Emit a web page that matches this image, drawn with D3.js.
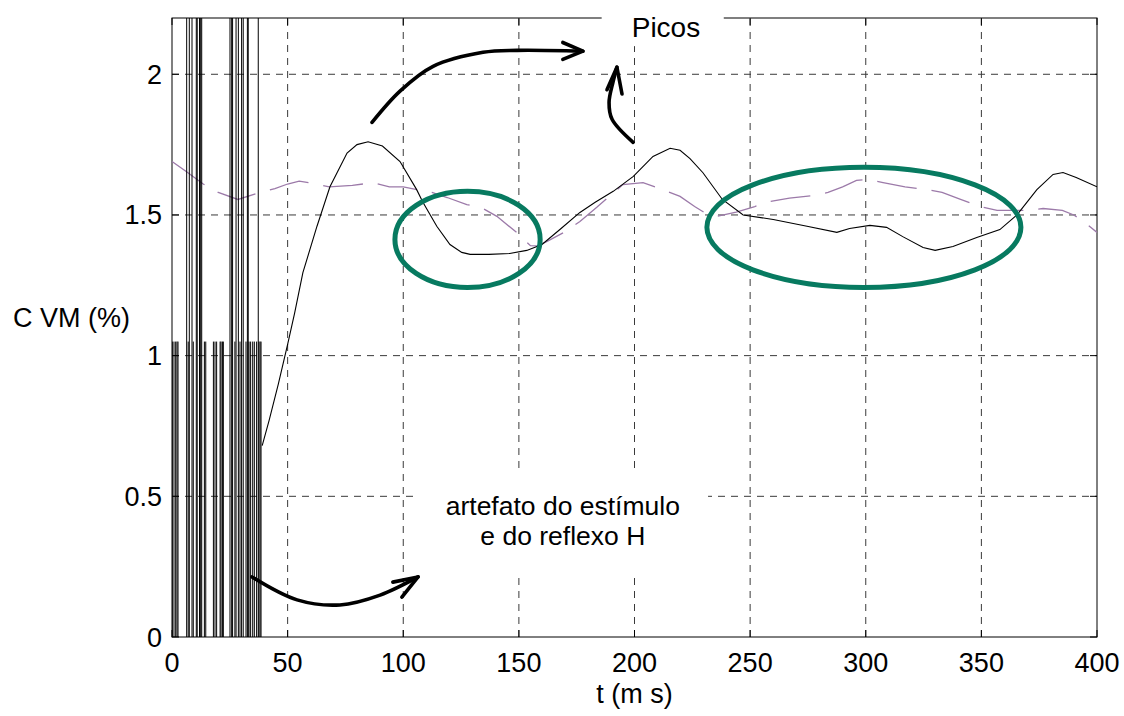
<!DOCTYPE html>
<html>
<head>
<meta charset="utf-8">
<script src="https://cdn.jsdelivr.net/npm/d3@7"></script>
<style>
  html, body { margin: 0; padding: 0; background: #fff; }
  svg { display: block; }
  text { font-family: "Liberation Sans", Arial, Helvetica, sans-serif; fill: #000; }
</style>
</head>
<body>
<svg id="chart" width="1124" height="716"></svg>
<script>
// ---- data -------------------------------------------------------------
// CVM (%) after the stimulus artefact (solid black trace)
const cvmT = [39, 42, 46, 50, 53, 56.6, 62.7, 68.3, 75.7, 80, 84.8, 91, 98.6, 105.8, 108.5,
  114.5, 120.2, 125.3, 128.9, 137, 146, 153.4, 160, 168, 176.4, 183, 190.8, 199.5, 208,
  215.4, 219.7, 224, 229.6, 238, 247, 260, 274.6, 287.5, 293, 301.8, 309, 316, 324.8,
  330, 337.7, 348, 358, 365.4, 374, 381, 385.3, 391, 400];
const cvmV = [0.68, 0.77, 0.90, 1.04, 1.15, 1.295, 1.46, 1.60, 1.72, 1.75, 1.76, 1.745, 1.69,
  1.59, 1.545, 1.46, 1.395, 1.367, 1.36, 1.36, 1.363, 1.374, 1.395, 1.45, 1.509, 1.545,
  1.584, 1.637, 1.708, 1.737, 1.73, 1.70, 1.65, 1.555, 1.50, 1.484, 1.46, 1.438, 1.452,
  1.463, 1.456, 1.423, 1.384, 1.374, 1.388, 1.42, 1.448, 1.50, 1.59, 1.644, 1.651, 1.633, 1.60];

// reference trace (dashed purple)
const refT = [0, 6, 13.5, 20, 28.5, 37, 44.5, 50, 55, 61, 68, 78, 87, 94, 100, 106, 112.4,
  119, 127.5, 134.5, 140.5, 149, 155, 158, 162, 170, 176.4, 183.7, 195, 203.7, 212, 219.7,
  226, 230, 235.5, 244, 252, 258.6, 267, 277, 283.7, 290, 296, 301, 307.5, 317, 326.5,
  333, 341, 349.4, 356.8, 363, 369.7, 376.7, 385, 390, 394.8, 400];
const refV = [1.69, 1.655, 1.61, 1.58, 1.555, 1.577, 1.594, 1.61, 1.62, 1.612, 1.60, 1.605,
  1.615, 1.60, 1.60, 1.59, 1.58, 1.562, 1.537, 1.523, 1.495, 1.438, 1.391, 1.39, 1.405,
  1.44, 1.477, 1.527, 1.608, 1.615, 1.59, 1.566, 1.53, 1.51, 1.495, 1.51, 1.53, 1.548,
  1.56, 1.569, 1.58, 1.60, 1.623, 1.626, 1.615, 1.60, 1.59, 1.58, 1.555, 1.53, 1.516,
  1.516, 1.516, 1.523, 1.516, 1.50, 1.473, 1.438];

// stimulus / H-reflex artefact: saturated spikes (run off the top) and clipped spikes
const spikeTallT = [6.35, 7.48, 8.65, 10.5, 10.9, 11.9, 12.4, 12.85, 25.08, 25.8, 26.2,
  27.7, 28.7, 30.1, 30.8, 32.6, 32.96, 37.3];
const spikeTallV = 2.5;
const spikeShortT = [0.13, 0.86, 1.6, 2.16, 2.6, 7.0, 9.2, 14.0, 14.6, 17.9, 18.6, 19.3,
  20.8, 21.2, 21.8, 22.2, 27.2, 29.4, 32.0, 33.3, 34.0, 34.9, 35.6, 36.6, 37.6, 38.1, 38.5];
const spikeShortV = 1.05;

// axes
const xTicks = [0, 50, 100, 150, 200, 250, 300, 350, 400];
const yTicks = [0, 0.5, 1, 1.5, 2];
const yTickLabels = ["0", "0.5", "1", "1.5", "2"];
const xTitle = "t (m s)";
const yTitle = "C VM (%)";

// annotations (data coordinates)
const peaksLabel = "Picos";
const peaksLabelT = 213.6;
const artefactLabel = ["artefato do estímulo", "e do reflexo H"];
const artefactLabelT = 169;
const ellipseA = { t: 127.8, v: 1.413, rt: 31.4, rv: 0.171 };
const ellipseB = { t: 299.2, v: 1.456, rt: 67.9, rv: 0.2135 };
const arrowPeaksRight = [[86.5, 1.829], [98.6, 1.94], [112.9, 2.028], [134.5, 2.078], [149.2, 2.085], [177.7, 2.082]];
const arrowPeaksRightHead = [[169, 2.113], [177.7, 2.082], [169, 2.053]];
const arrowPeaksUp = [[199.4, 1.758], [190.3, 1.84], [189, 1.90], [190.7, 1.972], [192.4, 2.025]];
const arrowPeaksUpHead = [[188.1, 1.945], [192.4, 2.025], [194.6, 1.93]];
const arrowArtefact = [[34.6, 0.2135], [54.1, 0.132], [72.6, 0.114], [90, 0.149], [106.4, 0.2135]];
const arrowArtefactHead = [[95.5, 0.195], [106.4, 0.2135], [99.4, 0.142]];
const peaksBox = { t0: 185.8, t1: 238.6, v0: 2.10 };
const artefactBox = { t0: 106.4, t1: 231.8, v0: 0.21, v1: 0.60 };

// ---- drawing ------------------------------------------------------------
const svg = d3.select("#chart");
const x = d3.scaleLinear().domain([0, 400]).range([172, 1097]);
const y = d3.scaleLinear().domain([0, 2.2]).range([637, 18]);
const [x0, x1] = x.range();
const [yB, yT] = y.range();

svg.append("defs").append("clipPath").attr("id", "plotClip")
  .append("rect").attr("x", x0).attr("y", yT).attr("width", x1 - x0).attr("height", yB - yT);

// grid
const grid = svg.append("g").attr("stroke", "#3a3a3a").attr("stroke-width", 1)
  .attr("stroke-dasharray", "7,6").attr("fill", "none");
grid.selectAll("line.v").data(xTicks.slice(1, -1)).join("line").attr("class", "v")
  .attr("x1", d => x(d)).attr("x2", d => x(d)).attr("y1", yB).attr("y2", yT);
grid.selectAll("line.h").data(yTicks.slice(1)).join("line").attr("class", "h")
  .attr("x1", x0).attr("x2", x1).attr("y1", d => y(d)).attr("y2", d => y(d));

// inward tick marks on all four sides
const tickLen = 7;
const ticks = svg.append("g").attr("stroke", "#000").attr("stroke-width", 1);
xTicks.forEach(t => {
  ticks.append("line").attr("x1", x(t)).attr("x2", x(t)).attr("y1", yB).attr("y2", yB - tickLen);
  ticks.append("line").attr("x1", x(t)).attr("x2", x(t)).attr("y1", yT).attr("y2", yT + tickLen);
});
yTicks.forEach(v => {
  ticks.append("line").attr("x1", x0).attr("x2", x0 + tickLen).attr("y1", y(v)).attr("y2", y(v));
  ticks.append("line").attr("x1", x1).attr("x2", x1 - tickLen).attr("y1", y(v)).attr("y2", y(v));
});

// frame
svg.append("rect").attr("x", x0).attr("y", yT).attr("width", x1 - x0).attr("height", yB - yT)
  .attr("fill", "none").attr("stroke", "#000").attr("stroke-width", 1);

// data layer
const plot = svg.append("g").attr("clip-path", "url(#plotClip)");

const refData = refT.map((t, i) => [t, refV[i]]);
plot.append("path").datum(refData)
  .attr("fill", "none").attr("stroke", "#9c7aa9").attr("stroke-width", 1.3)
  .attr("stroke-dasharray", "40,15")
  .attr("d", d3.line().x(d => x(d[0])).y(d => y(d[1])));

const spikes = spikeTallT.map(t => [t, spikeTallV]).concat(spikeShortT.map(t => [t, spikeShortV]));
plot.append("g").attr("stroke", "#000").attr("stroke-width", 1)
  .selectAll("line").data(spikes).join("line")
  .attr("x1", d => x(d[0])).attr("x2", d => x(d[0]))
  .attr("y1", y(0)).attr("y2", d => y(d[1]));

const cvmData = cvmT.map((t, i) => [t, cvmV[i]]);
plot.append("path").datum(cvmData)
  .attr("fill", "none").attr("stroke", "#000").attr("stroke-width", 1.1)
  .attr("d", d3.line().x(d => x(d[0])).y(d => y(d[1])));

// white label boxes
svg.append("rect").attr("x", x(peaksBox.t0)).attr("y", 0)
  .attr("width", x(peaksBox.t1) - x(peaksBox.t0)).attr("height", y(peaksBox.v0))
  .attr("fill", "#fff");
svg.append("rect").attr("x", x(artefactBox.t0)).attr("y", y(artefactBox.v1))
  .attr("width", x(artefactBox.t1) - x(artefactBox.t0))
  .attr("height", y(artefactBox.v0) - y(artefactBox.v1))
  .attr("fill", "#fff");

// highlight ellipses
[ellipseA, ellipseB].forEach(e => {
  svg.append("ellipse")
    .attr("cx", x(e.t)).attr("cy", y(e.v))
    .attr("rx", x(e.t + e.rt) - x(e.t)).attr("ry", y(e.v - e.rv) - y(e.v))
    .attr("fill", "none").attr("stroke", "#077a60").attr("stroke-width", 5);
});

// arrows
const arrowLine = d3.line().x(d => x(d[0])).y(d => y(d[1])).curve(d3.curveCatmullRom.alpha(0.5));
const headLine = d3.line().x(d => x(d[0])).y(d => y(d[1]));
const arrows = svg.append("g").attr("fill", "none").attr("stroke", "#000")
  .attr("stroke-width", 3.6).attr("stroke-linecap", "round").attr("stroke-linejoin", "round");
[[arrowPeaksRight, arrowPeaksRightHead], [arrowPeaksUp, arrowPeaksUpHead], [arrowArtefact, arrowArtefactHead]]
  .forEach(([body, head]) => {
    arrows.append("path").attr("d", arrowLine(body));
    arrows.append("path").attr("d", headLine(head));
  });

// annotation text
svg.append("text").attr("x", x(peaksLabelT)).attr("y", 37).attr("text-anchor", "middle")
  .attr("font-size", 28).text(peaksLabel);
const art = svg.append("text").attr("text-anchor", "middle").attr("font-size", 26.5);
artefactLabel.forEach((s, i) => {
  art.append("tspan").attr("x", x(artefactLabelT)).attr("y", 515 + i * 30).text(s);
});

// tick labels
svg.append("g").selectAll("text").data(xTicks).join("text")
  .attr("x", d => x(d)).attr("y", yB + 35).attr("text-anchor", "middle")
  .attr("font-size", 27).text(d => d);
svg.append("g").selectAll("text").data(yTicks).join("text")
  .attr("x", x0 - 10).attr("y", d => y(d) + 9.5).attr("text-anchor", "end")
  .attr("font-size", 27).text((d, i) => yTickLabels[i]);

// axis titles
svg.append("text").attr("x", (x0 + x1) / 2).attr("y", 703).attr("text-anchor", "middle")
  .attr("font-size", 27).text(xTitle);
svg.append("text").attr("x", 13).attr("y", 327).attr("text-anchor", "start")
  .attr("font-size", 27).text(yTitle);
</script>
</body>
</html>
